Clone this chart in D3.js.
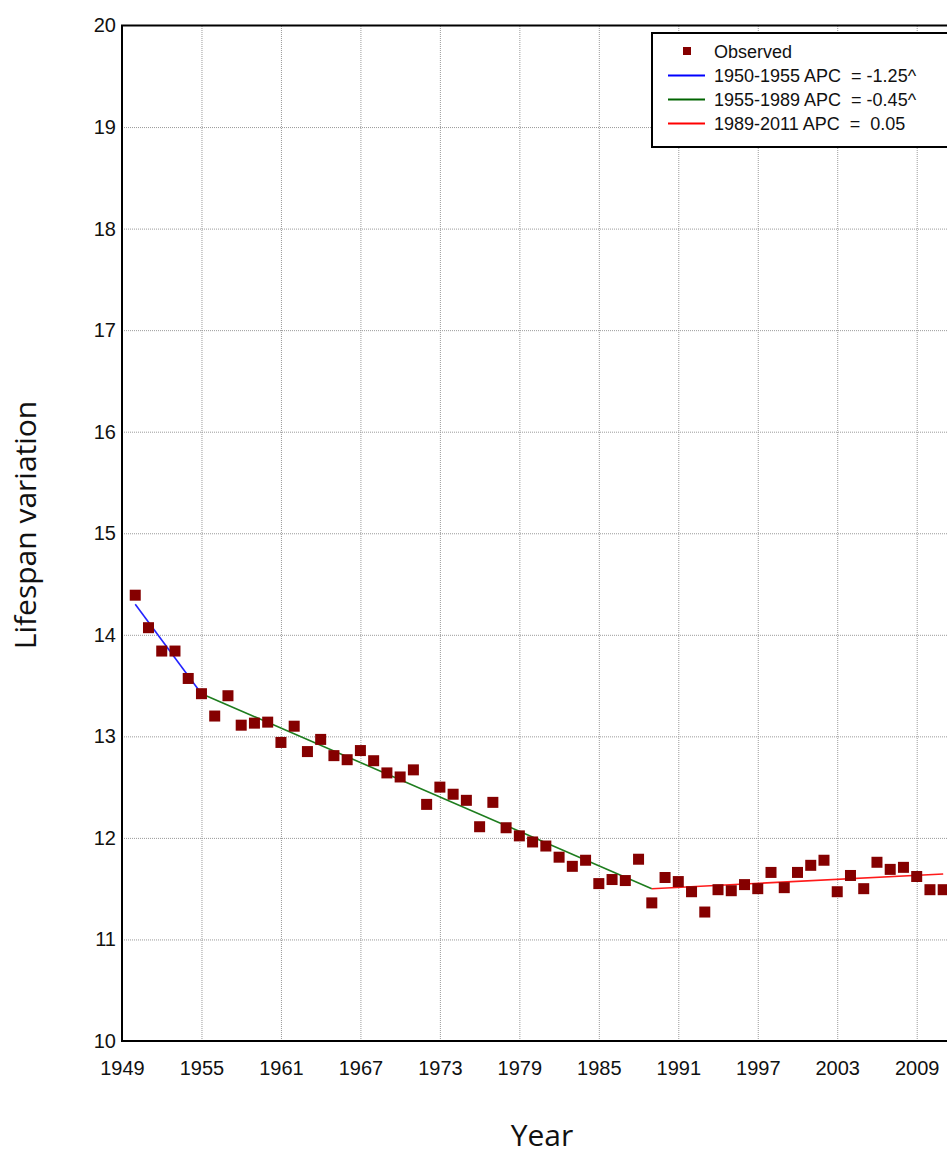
<!DOCTYPE html>
<html lang="en">
<head>
<meta charset="UTF-8" />
<title>Lifespan variation</title>
<script src="https://d3js.org/d3.v7.min.js"></script>
<style>
  body { margin: 0; background: #fff; }
  .tick text { font-family: "Liberation Sans", Arial, sans-serif; font-size: 20px; fill: #111; }
  .grid line { stroke: #9a9a9a; stroke-width: 1; stroke-dasharray: 1,1; }
  .grid path { display: none; }
  .legend text { font-family: "Liberation Sans", Arial, sans-serif; font-size: 18px; fill: #111; white-space: pre; }
  .title { font-family: "Open Sans", sans-serif; font-size: 30px; fill: #111; }
</style>
</head>
<body>
<div id="chart"></div>
<script>
var years = [1950, 1951, 1952, 1953, 1954, 1955, 1956, 1957, 1958, 1959,
             1960, 1961, 1962, 1963, 1964, 1965, 1966, 1967, 1968, 1969,
             1970, 1971, 1972, 1973, 1974, 1975, 1976, 1977, 1978, 1979,
             1980, 1981, 1982, 1983, 1984, 1985, 1986, 1987, 1988, 1989,
             1990, 1991, 1992, 1993, 1994, 1995, 1996, 1997, 1998, 1999,
             2000, 2001, 2002, 2003, 2004, 2005, 2006, 2007, 2008, 2009,
             2010, 2011];
var observed = [14.39, 14.07, 13.84, 13.84, 13.57, 13.42, 13.20, 13.40, 13.11, 13.13,
                13.14, 12.94, 13.10, 12.85, 12.97, 12.81, 12.77, 12.86, 12.76, 12.64,
                12.60, 12.67, 12.33, 12.50, 12.43, 12.37, 12.11, 12.35, 12.10, 12.02,
                11.96, 11.92, 11.81, 11.72, 11.78, 11.55, 11.59, 11.58, 11.79, 11.36,
                11.61, 11.57, 11.47, 11.27, 11.49, 11.48, 11.54, 11.50, 11.66, 11.51,
                11.66, 11.73, 11.78, 11.47, 11.63, 11.50, 11.76, 11.69, 11.71, 11.62,
                11.49, 11.49];

// joinpoint fit: ends of each segment
var joinYears = [1950, 1955, 1989, 2011];
var joinValues = [14.30, 13.42, 11.50, 11.645];
var segColors = ["#2323ff", "#1e7d1e", "#ff1a1a"];

var legendLabels = ["Observed", "1950-1955 APC  = -1.25^", "1955-1989 APC  = -0.45^", "1989-2011 APC  =  0.05"];
var legendColors = ["#0000ff", "#006400", "#ff0000"];

var xTicks = [1949, 1955, 1961, 1967, 1973, 1979, 1985, 1991, 1997, 2003, 2009];
var yTicks = [10, 11, 12, 13, 14, 15, 16, 17, 18, 19, 20];

var W = 947, H = 1154;
var margin = {top: 25.5, left: 122, bottom: 1041};

var x = d3.scaleLinear().domain([1949, 2012]).range([margin.left, margin.left + 63 * 13.245]);
var y = d3.scaleLinear().domain([10, 20]).range([margin.bottom, margin.top]);

var svg = d3.select("#chart").append("svg")
  .attr("width", W).attr("height", H);

svg.append("rect").attr("width", W).attr("height", H).attr("fill", "#fff");

// grid
svg.append("g").attr("class", "grid")
  .attr("transform", "translate(0," + margin.bottom + ")")
  .call(d3.axisBottom(x).tickValues(xTicks.slice(1)).tickSize(-(margin.bottom - margin.top)).tickFormat(""));
svg.append("g").attr("class", "grid")
  .attr("transform", "translate(" + margin.left + ",0)")
  .call(d3.axisLeft(y).tickValues(yTicks.slice(1, -1)).tickSize(-(x.range()[1] - margin.left)).tickFormat(""));

// tick labels
var xa = svg.append("g")
  .attr("transform", "translate(0," + margin.bottom + ")")
  .call(d3.axisBottom(x).tickValues(xTicks).tickSize(0).tickPadding(20).tickFormat(d3.format("d")));
xa.select(".domain").remove();
var ya = svg.append("g")
  .attr("transform", "translate(" + margin.left + ",0)")
  .call(d3.axisLeft(y).tickValues(yTicks).tickSize(0).tickPadding(6).tickFormat(d3.format("d")));
ya.select(".domain").remove();

// frame
svg.append("rect")
  .attr("x", margin.left).attr("y", margin.top)
  .attr("width", x.range()[1] - margin.left)
  .attr("height", margin.bottom - margin.top)
  .attr("fill", "none").attr("stroke", "#000").attr("stroke-width", 2);

// fitted segments
for (var i = 0; i < joinYears.length - 1; i++) {
  svg.append("line")
    .attr("x1", x(joinYears[i])).attr("y1", y(joinValues[i]))
    .attr("x2", x(joinYears[i + 1])).attr("y2", y(joinValues[i + 1]))
    .attr("stroke", segColors[i]).attr("stroke-width", 1.6);
}

// observed points
var s = 11;
svg.selectAll("rect.pt")
  .data(years)
  .enter().append("rect")
  .attr("class", "pt")
  .attr("x", function(d) { return x(d) - s / 2; })
  .attr("y", function(d, i) { return y(observed[i]) - s / 2; })
  .attr("width", s).attr("height", s)
  .attr("fill", "#850000");

// legend
var lg = svg.append("g").attr("class", "legend");
lg.append("rect")
  .attr("x", 652).attr("y", 33).attr("width", 330).attr("height", 114)
  .attr("fill", "#fff").attr("stroke", "#000").attr("stroke-width", 2);
lg.append("rect").attr("x", 683).attr("y", 47).attr("width", 8).attr("height", 8).attr("fill", "#850000");
for (var j = 0; j < 3; j++) {
  lg.append("line")
    .attr("x1", 668).attr("x2", 705)
    .attr("y1", 75.5 + j * 24).attr("y2", 75.5 + j * 24)
    .attr("stroke", legendColors[j]).attr("stroke-width", 2);
}
lg.selectAll("text").data(legendLabels).enter().append("text")
  .attr("x", 714)
  .attr("y", function(d, i) { return 58 + i * 24; })
  .attr("xml:space", "preserve")
  .text(function(d) { return d; });

// axis titles
svg.append("text").attr("class", "title")
  .attr("x", 542).attr("y", 1146).attr("text-anchor", "middle").text("Year");
svg.append("text").attr("class", "title")
  .attr("transform", "translate(36,525) rotate(-90)")
  .attr("text-anchor", "middle").text("Lifespan variation");
</script>
</body>
</html>
